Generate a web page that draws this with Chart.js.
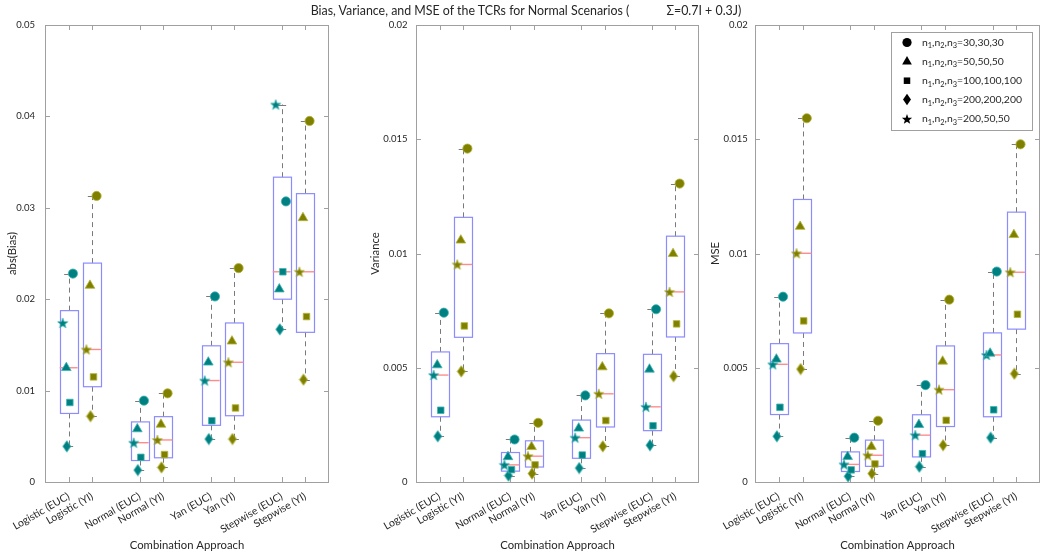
<!DOCTYPE html>
<html><head><meta charset="utf-8">
<script src="https://cdn.jsdelivr.net/npm/chart.js@4.4.1/dist/chart.umd.min.js"></script>
<style>
html,body{margin:0;padding:0;background:#fff;width:1050px;height:556px;overflow:hidden}
canvas{position:absolute;left:0;top:0}
#title{position:absolute;left:0;top:3px;width:1052px;text-align:center;white-space:pre;font:12.4px Lato,sans-serif;color:#262626;line-height:16px}
#title span + span{margin-left:37px}
</style></head><body>
<canvas id="c1" width="1050" height="556"></canvas>
<canvas id="c2" width="1050" height="556"></canvas>
<canvas id="c3" width="1050" height="556"></canvas>
<div id="title"></div>
<script>
// ---------- data ----------
const categories = ['Logistic (EUC)','Logistic (YI)','Normal (EUC)','Normal (YI)','Yan (EUC)','Yan (YI)','Stepwise (EUC)','Stepwise (YI)'];
const seriesLabels = ['30,30,30','50,50,50','100,100,100','200,200,200','200,50,50'];
const chartTitleParts = ['Bias, Variance, and MSE of the TCRs for Normal Scenarios (', '\u03A3=0.7I + 0.3J)'];
const xAxisTitle = 'Combination Approach';
const yTitles = ['abs(Bias)','Variance','MSE'];

const biasN30    = [0.0228, 0.0313, 0.0089, 0.0097, 0.0203, 0.0234, 0.0307, 0.0395];
const biasN50    = [0.0125, 0.0215, 0.0058, 0.0063, 0.0131, 0.0154, 0.0211, 0.0289];
const biasN100   = [0.0087, 0.0115, 0.0027, 0.0030, 0.0067, 0.0081, 0.0230, 0.0181];
const biasN200   = [0.0039, 0.0072, 0.0013, 0.0016, 0.0047, 0.0047, 0.0167, 0.0112];
const biasN20050 = [0.0174, 0.0145, 0.0043, 0.0046, 0.0111, 0.0131, 0.0413, 0.0230];

const varN30    = [0.00741, 0.01459, 0.00186, 0.00259, 0.00379, 0.00738, 0.00756, 0.01306];
const varN50    = [0.00512, 0.01058, 0.00110, 0.00154, 0.00235, 0.00503, 0.00493, 0.00999];
const varN100   = [0.00314, 0.00683, 0.00054, 0.00075, 0.00118, 0.00269, 0.00246, 0.00692];
const varN200   = [0.00200, 0.00484, 0.00028, 0.00037, 0.00061, 0.00156, 0.00161, 0.00463];
const varN20050 = [0.00468, 0.00952, 0.00075, 0.00113, 0.00194, 0.00386, 0.00329, 0.00832];

const mseN30    = [0.00811, 0.01592, 0.00194, 0.00268, 0.00424, 0.00798, 0.00921, 0.01478];
const mseN50    = [0.00537, 0.01118, 0.00111, 0.00155, 0.00251, 0.00528, 0.00563, 0.01082];
const mseN100   = [0.00327, 0.00705, 0.00053, 0.00079, 0.00124, 0.00270, 0.00316, 0.00734];
const mseN200   = [0.00200, 0.00494, 0.00025, 0.00037, 0.00067, 0.00161, 0.00194, 0.00474];
const mseN20050 = [0.00515, 0.01001, 0.00077, 0.00117, 0.00205, 0.00404, 0.00556, 0.00918];

const yTicksBias = [0, 0.01, 0.02, 0.03, 0.04, 0.05];
const yTickLabelsBias = ['0','0.01','0.02','0.03','0.04','0.05'];
const yTicksSmall = [0, 0.005, 0.01, 0.015, 0.02];
const yTickLabelsSmall = ['0','0.005','0.01','0.015','0.02'];

const titleEl = document.getElementById('title');
chartTitleParts.forEach(t => { const s = document.createElement('span'); s.textContent = t; titleEl.appendChild(s); });

// ---------- style ----------
const FONT = 'Lato, sans-serif';
Chart.defaults.font.family = FONT;
const TEAL = '#008080', TEAL_EDGE = '#3cb4b4';
const OLIVE = '#808000', OLIVE_EDGE = '#b4b43a';
const AXIS = '#a0a0a0', TXT = '#262626';
const BOX = '#8c8cff', MED = '#ff8c8c', WHISK = '#7a7a7a';
const markerStyles = ['circle','triangle','rect','diamond','star'];
const markerRadius = [4.6, 5.6, 4.6, 5, 5];
const markerShift = [0.18, -0.10, 0.05, -0.08, -0.25];
const BOX_HALF = 0.38, CAP_HALF = 0.19, TICK_LEN = 5;
const catPos = i => 1 + 3*Math.floor(i/2) + (i%2);

function mkCanvas(w,h,draw){const c=document.createElement('canvas');c.width=w;c.height=h;draw(c.getContext('2d'),w,h);return c;}
function diamondImg(fill,edge){return mkCanvas(10,13,(g,w,h)=>{g.beginPath();g.moveTo(w/2,0.8);g.lineTo(w-1,h/2);g.lineTo(w/2,h-0.8);g.lineTo(1,h/2);g.closePath();g.fillStyle=fill;g.fill();if(edge){g.strokeStyle=edge;g.lineWidth=0.8;g.stroke();}});}
function starImg(fill,edge){return mkCanvas(12,12,(g,w,h)=>{const cx=w/2,cy=h/2+0.5,R=5.4,r=R*0.42;g.beginPath();for(let k=0;k<10;k++){const a=-Math.PI/2+k*Math.PI/5;const rr=k%2?r:R;g.lineTo(cx+rr*Math.cos(a),cy+rr*Math.sin(a));}g.closePath();g.fillStyle=fill;g.fill();if(edge){g.strokeStyle=edge;g.lineWidth=0.7;g.stroke();}});}
const imgs = {
  3: [diamondImg(TEAL,TEAL_EDGE), diamondImg(OLIVE,OLIVE_EDGE), diamondImg('#000')],
  4: [starImg(TEAL,TEAL_EDGE), starImg(OLIVE,OLIVE_EDGE), starImg('#000')]
};

function quant(sorted, p){ // MATLAB prctile method
  const n = sorted.length; const pos = n*p + 0.5;
  if (pos <= 1) return sorted[0]; if (pos >= n) return sorted[n-1];
  const lo = Math.floor(pos); const f = pos - lo;
  return sorted[lo-1] + f*(sorted[lo]-sorted[lo-1]);
}
const crisp = v => Math.round(v) + 0.5;

function makePanel(id, o){
  const series = o.series;
  const datasets = series.map((arr, s) => ({
    label: 'n1,n2,n3=' + seriesLabels[s],
    data: arr.map((v,i) => ({x: catPos(i) + markerShift[s], y: v})),
    showLine: false,
    pointStyle: s < 3 ? markerStyles[s] : (ctx => imgs[s][ctx.dataIndex % 2]),
    pointRadius: markerRadius[s],
    pointBackgroundColor: ctx => ctx.dataIndex % 2 ? OLIVE : TEAL,
    pointBorderColor: ctx => ctx.dataIndex % 2 ? OLIVE_EDGE : TEAL_EDGE,
    pointBorderWidth: 0.8
  }));

  const boxPlugin = {
    id: 'boxes',
    beforeDatasetsDraw(chart){
      const {ctx, chartArea: a, scales: {x, y}} = chart;
      ctx.save();
      ctx.strokeStyle = AXIS; ctx.lineWidth = 1;
      ctx.strokeRect(crisp(a.left), crisp(a.top), Math.round(a.right - a.left) - 1, Math.round(a.bottom - a.top));
      ctx.beginPath();
      o.yTicks.forEach(v => { const py = crisp(y.getPixelForValue(v));
        if (py < a.bottom - 1 && py > a.top + 1) { ctx.moveTo(a.left, py); ctx.lineTo(a.left + TICK_LEN, py); ctx.moveTo(a.right - TICK_LEN, py); ctx.lineTo(a.right, py); } });
      categories.forEach((c,i) => { const px = crisp(x.getPixelForValue(catPos(i)));
        ctx.moveTo(px, a.bottom); ctx.lineTo(px, a.bottom - TICK_LEN); ctx.moveTo(px, a.top); ctx.lineTo(px, a.top + TICK_LEN); });
      ctx.stroke();
      categories.forEach((c,i) => {
        const vals = series.map(s => s[i]).sort((p,q) => p-q);
        const q1 = quant(vals, 0.25), med = quant(vals, 0.5), q3 = quant(vals, 0.75);
        const iqr = q3 - q1;
        const hi = Math.max(...vals.filter(v => v <= q3 + 1.5*iqr));
        const lo = Math.min(...vals.filter(v => v >= q1 - 1.5*iqr));
        const cx = x.getPixelForValue(catPos(i));
        const xl = x.getPixelForValue(catPos(i) - BOX_HALF), xr = x.getPixelForValue(catPos(i) + BOX_HALF);
        const cl = x.getPixelForValue(catPos(i) - CAP_HALF), cr = x.getPixelForValue(catPos(i) + CAP_HALF);
        const yq1 = y.getPixelForValue(q1), yq3 = y.getPixelForValue(q3), ym = y.getPixelForValue(med);
        const yhi = y.getPixelForValue(hi), ylo = y.getPixelForValue(lo);
        ctx.strokeStyle = WHISK; ctx.lineWidth = 1; ctx.setLineDash([5,4]);
        ctx.beginPath(); ctx.moveTo(crisp(cx), yq3); ctx.lineTo(crisp(cx), yhi); ctx.moveTo(crisp(cx), yq1); ctx.lineTo(crisp(cx), ylo); ctx.stroke();
        ctx.setLineDash([]);
        ctx.beginPath(); ctx.moveTo(cl, crisp(yhi)); ctx.lineTo(cr, crisp(yhi)); ctx.moveTo(cl, crisp(ylo)); ctx.lineTo(cr, crisp(ylo)); ctx.stroke();
        ctx.strokeStyle = BOX; ctx.lineWidth = 1.2;
        ctx.strokeRect(crisp(xl), yq3, Math.round(xr - xl), yq1 - yq3);
        ctx.strokeStyle = MED; ctx.lineWidth = 1.4;
        ctx.beginPath(); ctx.moveTo(xl, ym); ctx.lineTo(xr, ym); ctx.stroke();
      });
      ctx.restore();
    }
  };

  const legendPlugin = {
    id: 'mLegend',
    afterDatasetsDraw(chart){
      if (!o.legend) return;
      const ctx = chart.ctx; const L = o.legend;
      ctx.save();
      ctx.fillStyle = '#fff'; ctx.fillRect(L.x, L.y, L.w, L.h);
      ctx.strokeStyle = AXIS; ctx.lineWidth = 1; ctx.strokeRect(crisp(L.x), crisp(L.y), L.w, L.h);
      seriesLabels.forEach((lab, s) => {
        const yy = L.y + 10.5 + s*19.1; const mx = L.x + 16;
        if (s < 3) { ctx.fillStyle = '#000'; Chart.helpers.drawPoint(ctx, {pointStyle: markerStyles[s], radius: markerRadius[s], rotation: 0, borderWidth: 0}, mx, yy); }
        else { const im = imgs[s][2]; ctx.drawImage(im, Math.round(mx - im.width/2), Math.round(yy - im.height/2)); }
        ctx.fillStyle = TXT; ctx.textBaseline = 'middle'; ctx.textAlign = 'left';
        let tx = L.x + 31;
        const big = '10.4px ' + FONT, small = '7.4px ' + FONT;
        ['1','2','3'].forEach((d, k) => {
          ctx.font = big; const t = (k ? ',' : '') + 'n'; ctx.fillText(t, tx, yy); tx += ctx.measureText(t).width;
          ctx.font = small; ctx.fillText(d, tx, yy + 3.5); tx += ctx.measureText(d).width;
        });
        ctx.font = big; ctx.fillText('=' + lab, tx, yy);
      });
      ctx.restore();
    }
  };

  const padL = o.yTitleCenter - 12;
  return new Chart(document.getElementById(id), {
    type: 'scatter',
    data: { datasets },
    plugins: [boxPlugin, legendPlugin],
    options: {
      responsive: false, animation: false, events: [],
      layout: { padding: { left: padL, right: 1050 - o.right, top: 25, bottom: 0 } },
      plugins: { legend: { display: false }, tooltip: { enabled: false } },
      scales: {
        x: {
          type: 'linear', min: 0, max: 12,
          grid: { display: false, drawTicks: false }, border: { display: false },
          afterBuildTicks: sc => { sc.ticks = categories.map((c,i) => ({ value: catPos(i) })); },
          afterFit: sc => { sc.height = 74; },
          ticks: { autoSkip: false, minRotation: 30, maxRotation: 30, padding: 8, color: TXT, font: { size: 10.4 },
            callback: v => { const i = categories.findIndex((c,k) => catPos(k) === v); return i >= 0 ? categories[i] : ''; } },
          title: { display: true, text: xAxisTitle, color: TXT, font: { size: 11.3 }, padding: { top: 0, bottom: 4.2 } }
        },
        y: {
          min: 0, max: o.yMax,
          grid: { display: false, drawTicks: false }, border: { display: false },
          afterBuildTicks: sc => { sc.ticks = o.yTicks.map(v => ({ value: v })); },
          afterFit: sc => { sc.width = o.left - padL; },
          ticks: { padding: o.tickPad, color: TXT, font: { size: 9.5 }, callback: (v, i) => o.yTickLabels[i] },
          title: { display: true, text: o.yTitle, color: TXT, font: { size: 11.3 }, padding: { top: 5.2, bottom: 0 } }
        }
      }
    }
  });
}

makePanel('c1', { left: 45, right: 329, yTitleCenter: 12, tickPad: 10, yMax: 0.05, yTicks: yTicksBias, yTickLabels: yTickLabelsBias,
  yTitle: yTitles[0], series: [biasN30, biasN50, biasN100, biasN200, biasN20050] });
makePanel('c2', { left: 416, right: 699, yTitleCenter: 375, tickPad: 8.5, yMax: 0.02, yTicks: yTicksSmall, yTickLabels: yTickLabelsSmall,
  yTitle: yTitles[1], series: [varN30, varN50, varN100, varN200, varN20050] });
makePanel('c3', { left: 755, right: 1040, yTitleCenter: 715, tickPad: 7.3, yMax: 0.02, yTicks: yTicksSmall, yTickLabels: yTickLabelsSmall,
  yTitle: yTitles[2], series: [mseN30, mseN50, mseN100, mseN200, mseN20050],
  legend: { x: 891, y: 32, w: 141, h: 98 } });
</script>
</body></html>
